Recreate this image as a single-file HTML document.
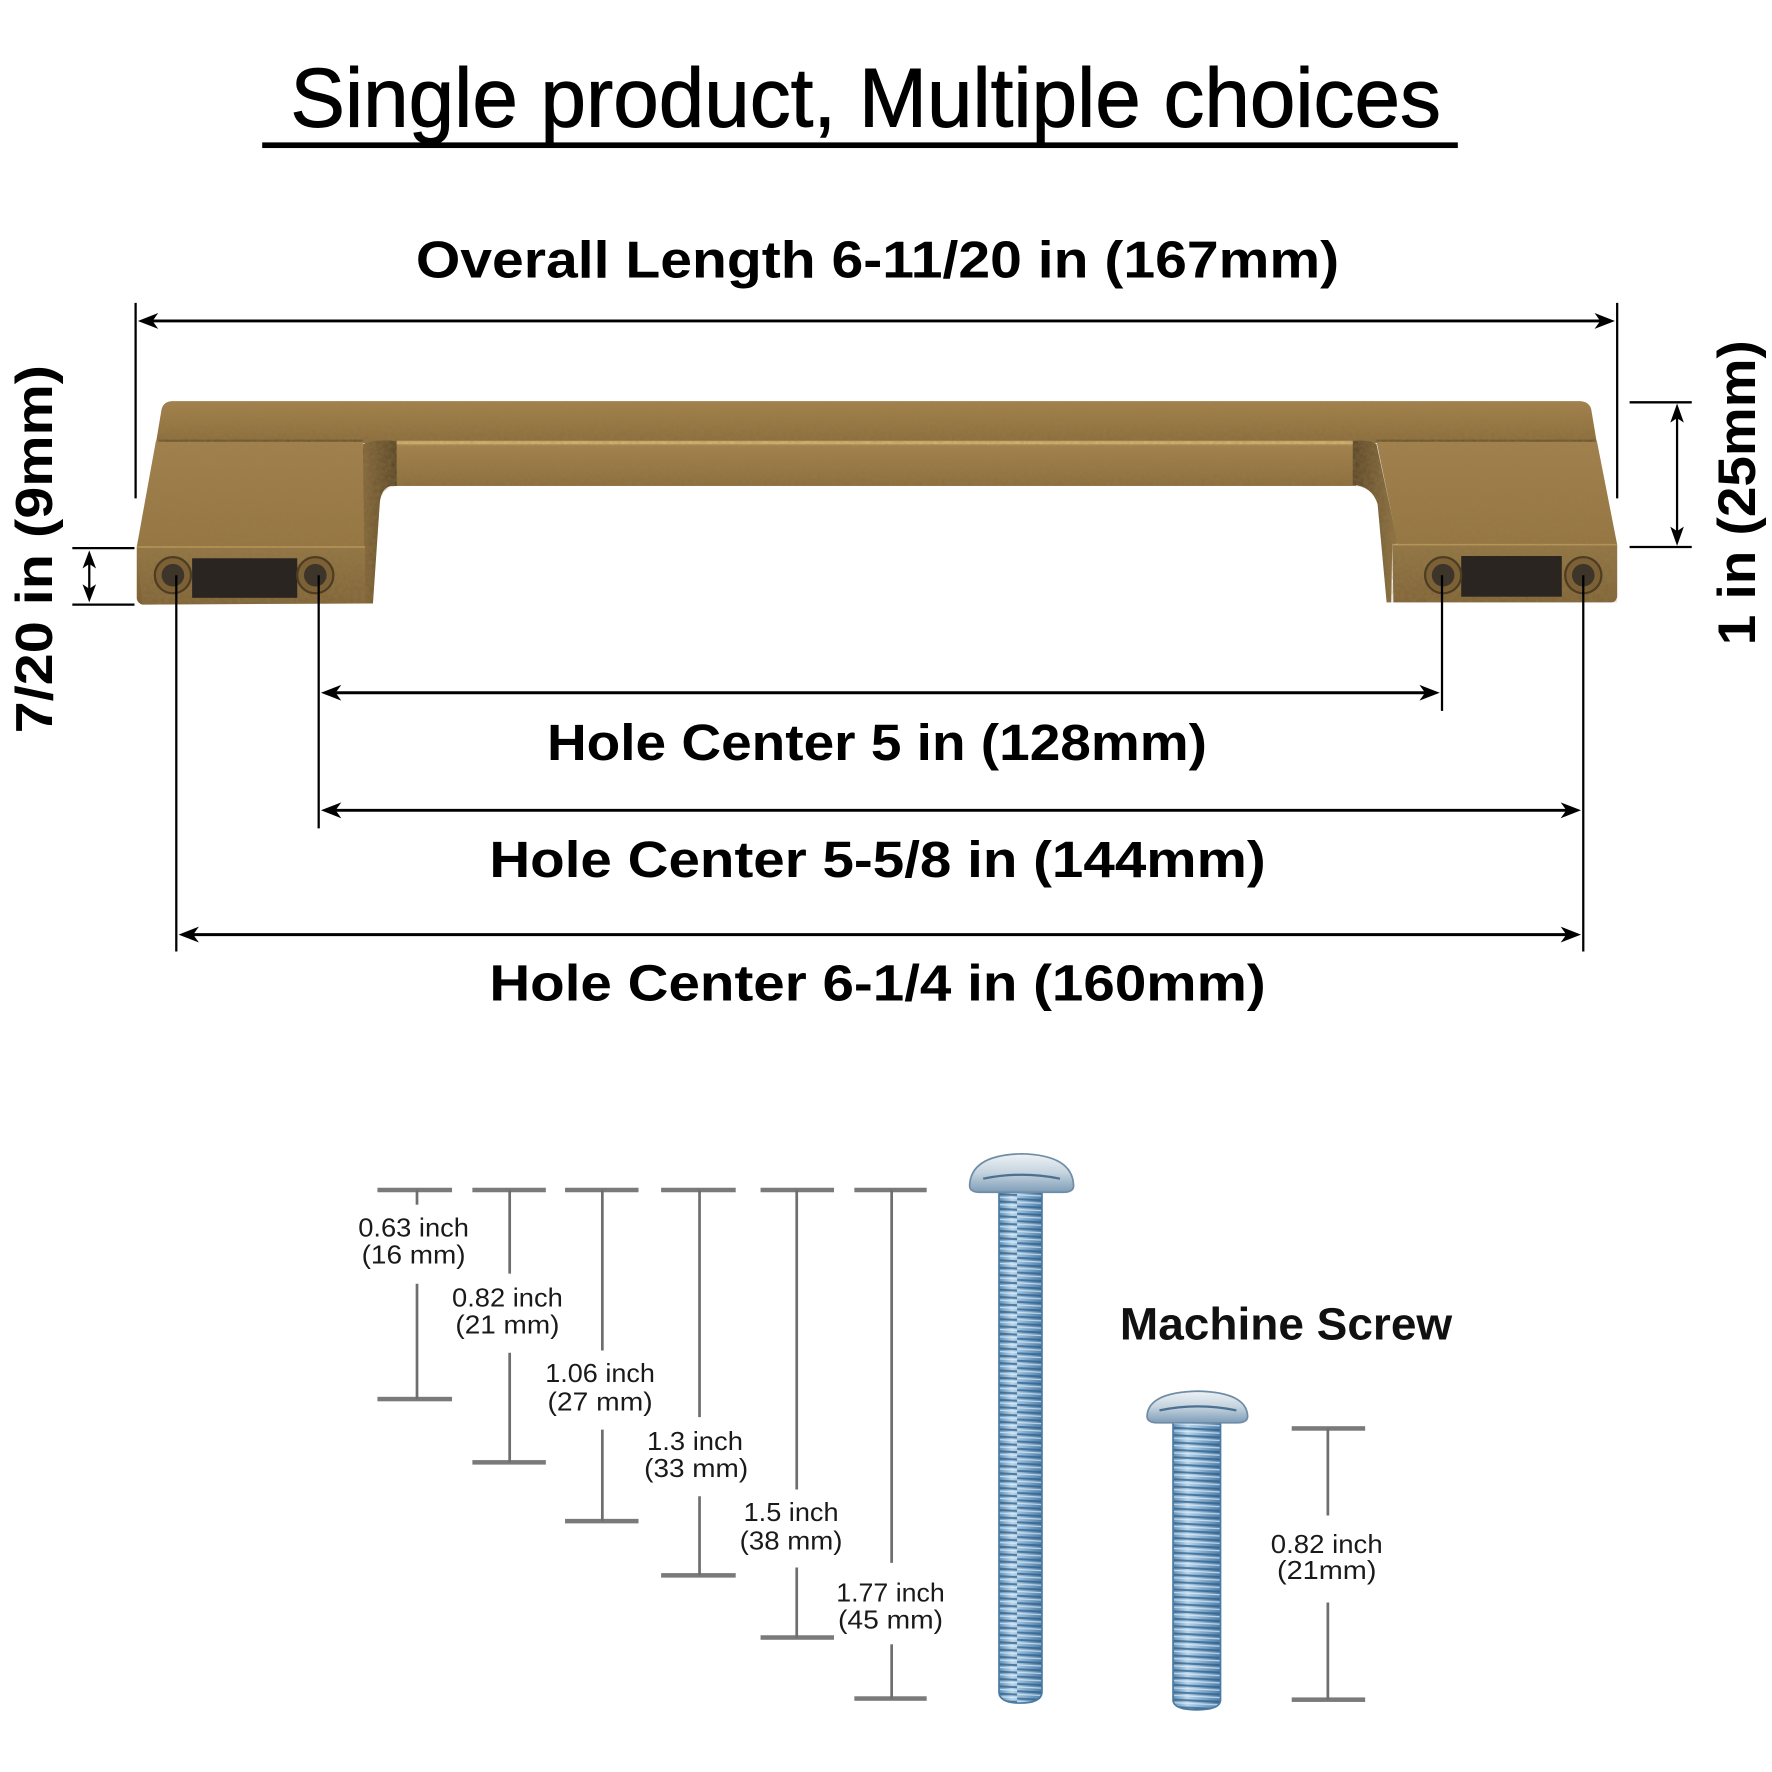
<!DOCTYPE html>
<html>
<head>
<meta charset="utf-8">
<style>
html,body{margin:0;padding:0;background:#fff;}
svg{display:block;}
text{font-family:"Liberation Sans",Arial,sans-serif;}
</style>
</head>
<body>
<svg xmlns="http://www.w3.org/2000/svg" width="1772" height="1772" viewBox="0 0 1568 1568">
<defs>
  <linearGradient id="topFace" x1="0" y1="0" x2="0" y2="1">
    <stop offset="0" stop-color="#a5824a"/>
    <stop offset="0.5" stop-color="#98763f"/>
    <stop offset="1" stop-color="#8a6a38"/>
  </linearGradient>
  <linearGradient id="frontFace" x1="0" y1="0" x2="0" y2="1">
    <stop offset="0" stop-color="#a3804a"/>
    <stop offset="1" stop-color="#96743e"/>
  </linearGradient>
  <linearGradient id="barFace" x1="0" y1="0" x2="0" y2="1">
    <stop offset="0" stop-color="#d2b06a"/>
    <stop offset="0.12" stop-color="#a5824a"/>
    <stop offset="1" stop-color="#8c6b38"/>
  </linearGradient>
  <linearGradient id="endFace" x1="0" y1="0" x2="0" y2="1">
    <stop offset="0" stop-color="#927440"/>
    <stop offset="1" stop-color="#7f6234"/>
  </linearGradient>
  <linearGradient id="sideL" x1="0" y1="0" x2="1" y2="0">
    <stop offset="0" stop-color="#836536"/>
    <stop offset="1" stop-color="#574222"/>
  </linearGradient>
  <linearGradient id="sideR" x1="0" y1="0" x2="1" y2="0">
    <stop offset="0" stop-color="#574222"/>
    <stop offset="1" stop-color="#907240"/>
  </linearGradient>
  <filter id="grain" x="0" y="0" width="100%" height="100%">
    <feTurbulence type="fractalNoise" baseFrequency="0.3" numOctaves="2" seed="3" result="n"/>
    <feColorMatrix type="matrix" values="0 0 0 0 0.3  0 0 0 0 0.22  0 0 0 0 0.1  0 0 0 0.45 0" in="n" result="c"/>
    <feComposite in="c" in2="SourceGraphic" operator="in"/>
  </filter>
  <linearGradient id="shaft" x1="0" y1="0" x2="1" y2="0">
    <stop offset="0" stop-color="#5f8db5"/>
    <stop offset="0.3" stop-color="#b9d6ec"/>
    <stop offset="0.55" stop-color="#8fb6d6"/>
    <stop offset="1" stop-color="#4f7ea8"/>
  </linearGradient>
  <pattern id="thread" patternUnits="userSpaceOnUse" width="60" height="6.5">
    <path d="M0 1.5 L60 4.5" stroke="#2f5d86" stroke-width="1.8" fill="none" opacity="0.75"/>
    <path d="M0 4.2 L60 7.2" stroke="#e6f1fa" stroke-width="1.1" fill="none" opacity="0.7"/>
    <path d="M0 -2.3 L60 0.7" stroke="#e6f1fa" stroke-width="1.1" fill="none" opacity="0.7"/>
  </pattern>
  <linearGradient id="head" x1="0" y1="0" x2="0" y2="1">
    <stop offset="0" stop-color="#eef3f6"/>
    <stop offset="0.5" stop-color="#c4d3de"/>
    <stop offset="1" stop-color="#7e9db8"/>
  </linearGradient>
</defs>

<!-- Title -->
<text x="257" y="112" font-size="74" fill="#000" stroke="#000" stroke-width="0.8" textLength="1018" lengthAdjust="spacingAndGlyphs">Single product, Multiple choices</text>
<rect x="232" y="126" width="1058" height="5" fill="#000"/>

<!-- Overall length -->
<text x="368" y="245.5" font-size="46" font-weight="bold" fill="#000" textLength="817" lengthAdjust="spacingAndGlyphs">Overall Length 6-11/20 in (167mm)</text>
<g stroke="#000" stroke-width="2" fill="none">
  <line x1="120" y1="268" x2="120" y2="441"/>
  <line x1="1431" y1="268" x2="1431" y2="441"/>
</g>
<line x1="126" y1="284" x2="1425" y2="284" stroke="#000" stroke-width="2.6"/>
<path d="M122 284 L140 277 L135 284 L140 291 Z" fill="#000"/>
<path d="M1429 284 L1411 277 L1416 284 L1411 291 Z" fill="#000"/>

<!-- Handle -->
<g>
  <path d="M138 392 L143 362 Q145 355 153 355 L1397 355 Q1406 355 1408 362 L1413 392 Z" fill="url(#topFace)"/>
  <path d="M138 390 L321 390 L323 484 L121 484 Z" fill="url(#frontFace)"/>
  <path d="M1218 390 L1413 390 L1431 482 L1237 482 Z" fill="url(#frontFace)"/>
  <rect x="348" y="390" width="852" height="40" fill="url(#barFace)"/>
  <path d="M321 393 Q330 389 351 390 L351 430 L346 430 Q337 432 336 446 L330 534 L323 534 Z" fill="url(#sideL)"/>
  <path d="M1197 390 Q1212 389 1218 393 L1237 481 L1232 482 L1231 533 L1227 533 L1219 446 Q1214 430 1197 429 Z" fill="url(#sideR)"/>
  <path d="M121 484 L323 484 L323 534 L126 535 Q122 534 121 530 Z" fill="url(#endFace)"/>
  <path d="M1232 482 L1431 482 L1431 528 Q1430 533 1426 533 L1233 533 Z" fill="url(#endFace)"/>
  <line x1="140" y1="390" x2="321" y2="390" stroke="#5e4620" stroke-width="2" opacity="0.7"/>
  <line x1="1218" y1="390" x2="1412" y2="390" stroke="#5e4620" stroke-width="2" opacity="0.7"/>
  <line x1="351" y1="392" x2="1197" y2="392" stroke="#dcbc74" stroke-width="2.2" opacity="0.85"/>
  <line x1="121" y1="484" x2="323" y2="484" stroke="#c29e5c" stroke-width="1.5" opacity="0.8"/>
  <line x1="1232" y1="482" x2="1431" y2="482" stroke="#c29e5c" stroke-width="1.5" opacity="0.8"/>
  <g filter="url(#grain)">
    <path d="M138 392 L143 362 Q145 355 153 355 L1397 355 Q1406 355 1408 362 L1413 392 L1431 482 L1431 533 L1227 533 L1219 446 Q1214 430 1197 430 L351 430 Q337 432 336 446 L330 534 L126 535 L121 484 Z" fill="#000"/>
  </g>
  <rect x="170" y="494" width="93" height="35" fill="#2a2520"/>
  <rect x="1293" y="492" width="89" height="36" fill="#2a2520"/>
  <g>
    <circle cx="153" cy="509" r="16" fill="#7d6136" stroke="#4e3d22" stroke-width="2"/>
    <circle cx="153" cy="509" r="10" fill="#3d342a"/>
    <circle cx="279" cy="509" r="16" fill="#7d6136" stroke="#4e3d22" stroke-width="2"/>
    <circle cx="279" cy="509" r="10" fill="#3d342a"/>
    <circle cx="1277" cy="509" r="16" fill="#7d6136" stroke="#4e3d22" stroke-width="2"/>
    <circle cx="1277" cy="509" r="10" fill="#3d342a"/>
    <circle cx="1401" cy="509" r="16" fill="#7d6136" stroke="#4e3d22" stroke-width="2"/>
    <circle cx="1401" cy="509" r="10" fill="#3d342a"/>
  </g>
</g>

<!-- 7/20 in dimension -->
<g stroke="#000" stroke-width="2">
  <line x1="64" y1="485" x2="119" y2="485"/>
  <line x1="64" y1="535" x2="119" y2="535"/>
  <line x1="79" y1="492" x2="79" y2="528"/>
</g>
<path d="M79 487 L73 503 L79 499 L85 503 Z" fill="#000"/>
<path d="M79 533 L73 517 L79 521 L85 517 Z" fill="#000"/>
<text transform="translate(46,486) rotate(-90)" text-anchor="middle" font-size="46" font-weight="bold" fill="#000" textLength="326" lengthAdjust="spacingAndGlyphs">7/20 in (9mm)</text>

<!-- 1 in dimension -->
<g stroke="#000" stroke-width="2">
  <line x1="1442" y1="356" x2="1497" y2="356"/>
  <line x1="1442" y1="484" x2="1497" y2="484"/>
  <line x1="1484" y1="362" x2="1484" y2="478"/>
</g>
<path d="M1484 357 L1478 374 L1484 370 L1490 374 Z" fill="#000"/>
<path d="M1484 483 L1478 466 L1484 470 L1490 466 Z" fill="#000"/>
<text transform="translate(1553,436) rotate(-90)" text-anchor="middle" font-size="47" font-weight="bold" fill="#000" textLength="270" lengthAdjust="spacingAndGlyphs">1 in (25mm)</text>

<!-- Hole center lines -->
<g stroke="#000" stroke-width="2">
  <line x1="156" y1="509" x2="156" y2="842"/>
  <line x1="282" y1="509" x2="282" y2="733"/>
  <line x1="1276" y1="509" x2="1276" y2="629"/>
  <line x1="1401" y1="509" x2="1401" y2="842"/>
</g>
<g stroke="#000" stroke-width="2.6">
  <line x1="288" y1="613" x2="1270" y2="613"/>
  <line x1="288" y1="717" x2="1395" y2="717"/>
  <line x1="162" y1="827" x2="1395" y2="827"/>
</g>
<g fill="#000">
  <path d="M284 613 L302 606 L297 613 L302 620 Z"/>
  <path d="M1274 613 L1256 606 L1261 613 L1256 620 Z"/>
  <path d="M284 717 L302 710 L297 717 L302 724 Z"/>
  <path d="M1399 717 L1381 710 L1386 717 L1381 724 Z"/>
  <path d="M158 827 L176 820 L171 827 L176 834 Z"/>
  <path d="M1399 827 L1381 820 L1386 827 L1381 834 Z"/>
</g>
<text x="484" y="672.5" font-size="45" font-weight="bold" fill="#000" textLength="584" lengthAdjust="spacingAndGlyphs">Hole Center 5 in (128mm)</text>
<text x="433" y="776" font-size="45" font-weight="bold" fill="#000" textLength="687" lengthAdjust="spacingAndGlyphs">Hole Center 5-5/8 in (144mm)</text>
<text x="433" y="885.5" font-size="45" font-weight="bold" fill="#000" textLength="687" lengthAdjust="spacingAndGlyphs">Hole Center 6-1/4 in (160mm)</text>

<!-- Screw measurement lines -->
<g fill="#7a7a7a">
  <rect x="334" y="1051" width="66" height="4"/>
  <rect x="418" y="1051" width="65" height="4"/>
  <rect x="500" y="1051" width="65" height="4"/>
  <rect x="585" y="1051" width="66" height="4"/>
  <rect x="673" y="1051" width="65" height="4"/>
  <rect x="756" y="1051" width="64" height="4"/>
  <rect x="334" y="1236" width="66" height="4"/>
  <rect x="418" y="1292" width="65" height="4"/>
  <rect x="500" y="1344" width="65" height="4"/>
  <rect x="585" y="1392" width="66" height="4"/>
  <rect x="673" y="1447" width="65" height="4"/>
  <rect x="756" y="1501" width="64" height="4"/>
  <rect x="1143" y="1262" width="65" height="4"/>
  <rect x="1143" y="1502" width="65" height="4"/>
</g>
<g stroke="#6e6e6e" stroke-width="2.4">
  <line x1="369" y1="1053" x2="369" y2="1066"/>
  <line x1="369" y1="1136" x2="369" y2="1238"/>
  <line x1="451" y1="1053" x2="451" y2="1127"/>
  <line x1="451" y1="1197" x2="451" y2="1294"/>
  <line x1="533" y1="1053" x2="533" y2="1195"/>
  <line x1="533" y1="1265" x2="533" y2="1346"/>
  <line x1="619" y1="1053" x2="619" y2="1254"/>
  <line x1="619" y1="1324" x2="619" y2="1394"/>
  <line x1="705" y1="1053" x2="705" y2="1318"/>
  <line x1="705" y1="1387" x2="705" y2="1449"/>
  <line x1="789" y1="1053" x2="789" y2="1383"/>
  <line x1="789" y1="1455" x2="789" y2="1503"/>
  <line x1="1175" y1="1264" x2="1175" y2="1341"/>
  <line x1="1175" y1="1418" x2="1175" y2="1504"/>
</g>
<g font-size="23" fill="#1a1a1a" text-anchor="middle">
  <text x="366" y="1094" textLength="98" lengthAdjust="spacingAndGlyphs">0.63 inch</text>
  <text x="366" y="1118" textLength="92" lengthAdjust="spacingAndGlyphs">(16 mm)</text>
  <text x="449" y="1156" textLength="98" lengthAdjust="spacingAndGlyphs">0.82 inch</text>
  <text x="449" y="1180" textLength="92" lengthAdjust="spacingAndGlyphs">(21 mm)</text>
  <text x="531" y="1223" textLength="97" lengthAdjust="spacingAndGlyphs">1.06 inch</text>
  <text x="531" y="1248" textLength="93" lengthAdjust="spacingAndGlyphs">(27 mm)</text>
  <text x="615" y="1283" textLength="85" lengthAdjust="spacingAndGlyphs">1.3 inch</text>
  <text x="616" y="1307" textLength="92" lengthAdjust="spacingAndGlyphs">(33 mm)</text>
  <text x="700" y="1346" textLength="84" lengthAdjust="spacingAndGlyphs">1.5 inch</text>
  <text x="700" y="1371" textLength="91" lengthAdjust="spacingAndGlyphs">(38 mm)</text>
  <text x="788" y="1417" textLength="96" lengthAdjust="spacingAndGlyphs">1.77 inch</text>
  <text x="788" y="1441" textLength="93" lengthAdjust="spacingAndGlyphs">(45 mm)</text>
  <text x="1174" y="1374" textLength="99" lengthAdjust="spacingAndGlyphs">0.82 inch</text>
  <text x="1174" y="1397" textLength="88" lengthAdjust="spacingAndGlyphs">(21mm)</text>
</g>

<!-- Machine Screw label -->
<text x="991" y="1185.5" font-size="40" font-weight="bold" fill="#111" textLength="294" lengthAdjust="spacingAndGlyphs">Machine Screw</text>

<!-- Long screw -->
<g>
  <path d="M884 1050 L922 1050 L922 1498 Q921 1507 903 1507 Q885 1507 884 1498 Z" fill="url(#shaft)"/>
  <path d="M884 1050 L922 1050 L922 1498 Q921 1507 903 1507 Q885 1507 884 1498 Z" fill="url(#thread)"/>
  <path d="M884 1050 L922 1050 L922 1498 Q921 1507 903 1507 Q885 1507 884 1498 Z" fill="none" stroke="#4a7aa2" stroke-width="1.5"/>
  <path d="M858 1049 Q859 1022 904 1021 Q949 1022 950 1049 Q950 1055 941 1055 L867 1055 Q858 1055 858 1049 Z" fill="url(#head)" stroke="#6f8ca6" stroke-width="1.5"/>
  <path d="M870 1043 Q904 1036 938 1043" stroke="#4d6f90" stroke-width="2" fill="none"/>
</g>
<!-- Small screw -->
<g>
  <path d="M1038 1256 L1080 1256 L1080 1505 Q1079 1513 1059 1513 Q1039 1513 1038 1505 Z" fill="url(#shaft)"/>
  <path d="M1038 1256 L1080 1256 L1080 1505 Q1079 1513 1059 1513 Q1039 1513 1038 1505 Z" fill="url(#thread)"/>
  <path d="M1038 1256 L1080 1256 L1080 1505 Q1079 1513 1059 1513 Q1039 1513 1038 1505 Z" fill="none" stroke="#4a7aa2" stroke-width="1.5"/>
  <path d="M1015 1253 Q1016 1232 1060 1231 Q1103 1232 1104 1253 Q1104 1259 1095 1259 L1024 1259 Q1015 1259 1015 1253 Z" fill="url(#head)" stroke="#6f8ca6" stroke-width="1.5"/>
  <path d="M1026 1248 Q1060 1241 1094 1248" stroke="#4d6f90" stroke-width="2" fill="none"/>
</g>
</svg>
</body>
</html>
